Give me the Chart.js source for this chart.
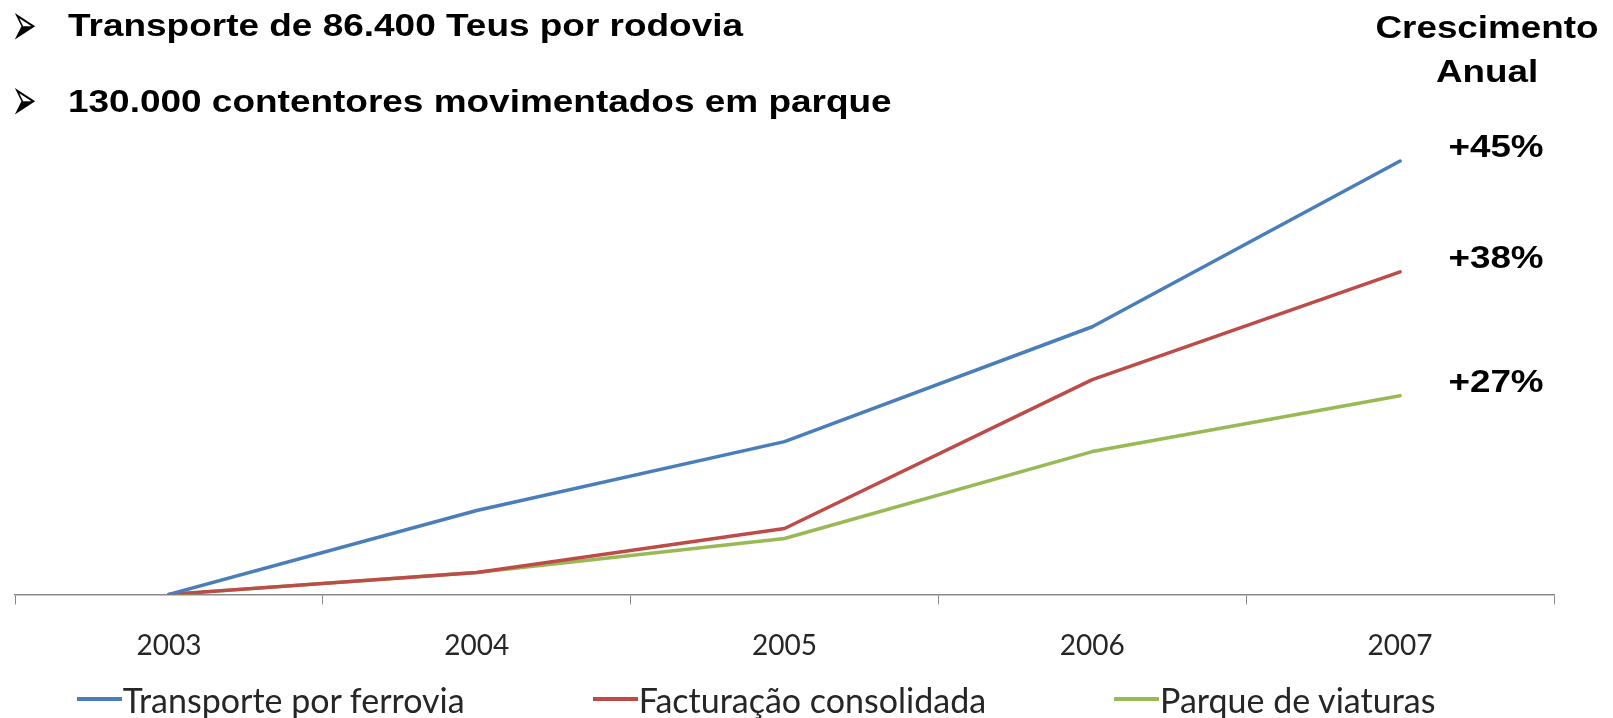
<!DOCTYPE html>
<html lang="pt">
<head>
<meta charset="utf-8">
<title>Crescimento Anual</title>
<script src="https://cdn.jsdelivr.net/npm/chart.js@4"></script>
<style>
    html, body { margin: 0; padding: 0; background: #fff; overflow: hidden; }
    #wrap { position: absolute; left: 0; top: 0; width: 1613px; height: 718px; }
    .bold { position: absolute; font-family: 'Liberation Sans', Arial, sans-serif; font-weight: bold;
            font-size: 32px; line-height: 32px; color: #000; white-space: nowrap; }
    .linha { left: 68px; transform: scaleX(1.155); transform-origin: left center; }
    .seta { position: absolute; left: 4px; width: 40px; height: 40px; line-height: 40px; text-align: center;
            font-family: 'DejaVu Sans', sans-serif; font-size: 30px; color: #000;
            transform: scaleY(2); transform-origin: center center; }
    .centro { width: 200px; text-align: center; transform: scaleX(1.15); transform-origin: center center; }
    #legenda { position: absolute; left: 0; top: 680px; width: 1512px; height: 38px; display: flex;
               justify-content: center; align-items: center; gap: 128px;
               font-family: Lato, sans-serif; font-size: 34px; color: #262626; }
    #legenda .item { display: flex; align-items: center; white-space: nowrap; }
    #legenda .traco { display: inline-block; width: 45px; height: 4px; margin-right: 1px; }
</style>
</head>
<body>
<div id="wrap">
    <canvas id="grafico-crescimento"></canvas>
</div>
<span class="seta" style="top:5px">&#10146;</span>
<div class="bold linha" style="top:9px">Transporte de 86.400 Teus por rodovia</div>
<span class="seta" style="top:80px">&#10146;</span>
<div class="bold linha" style="top:85px">130.000 contentores movimentados em parque</div>
<div class="bold centro" style="left:1387px; top:11px">Crescimento</div>
<div class="bold centro" style="left:1387px; top:55px">Anual</div>
<div id="rotulos"></div>
<div id="legenda"></div>
<script>
const anos = ['2003', '2004', '2005', '2006', '2007'];
// valores (escala relativa, 2003 = 0)
const ferrovia = [0, 84, 153, 268, 434];
const facturacao = [0, 22, 66, 215, 323];
const viaturas = [0, 22, 56, 143, 199];
const nomesSeries = ['Transporte por ferrovia', 'Facturação consolidada', 'Parque de viaturas'];
const crescimento = ['+45%', '+38%', '+27%'];
const cores = ['#4A7EBB', '#BE4B48', '#98B954'];

document.addEventListener('DOMContentLoaded', (event) => {
    const ctx = document.getElementById('grafico-crescimento').getContext('2d');
    const series = [ferrovia, facturacao, viaturas];

    const chart = new Chart(ctx, {
        type: 'line',
        data: {
            labels: anos,
            datasets: series.map((valores, i) => ({
                label: nomesSeries[i],
                data: valores,
                borderColor: cores[i],
                backgroundColor: cores[i],
                borderWidth: 3.5,
                borderJoinStyle: 'round',
                borderCapStyle: 'round',
                pointRadius: 0,
                tension: 0,
                fill: false
            }))
        },
        options: {
            responsive: true,
            maintainAspectRatio: false,
            animation: false,
            layout: {
                padding: { left: 15, right: 59, top: 145, bottom: 30 }
            },
            plugins: {
                legend: { display: false },
                tooltip: { enabled: false }
            },
            scales: {
                x: {
                    offset: true,
                    grid: {
                        offset: true,
                        drawOnChartArea: false,
                        tickLength: 10,
                        color: '#898989'
                    },
                    border: { display: true, color: '#898989', width: 1.5 },
                    ticks: {
                        color: '#262626',
                        padding: 25,
                        font: { family: 'Lato', size: 28 }
                    }
                },
                y: {
                    display: false,
                    min: 0,
                    max: 450
                }
            }
        }
    });

    // legenda em HTML
    const legenda = document.getElementById('legenda');
    chart.data.datasets.forEach(ds => {
        const item = document.createElement('div');
        item.className = 'item';
        const traco = document.createElement('span');
        traco.className = 'traco';
        traco.style.background = ds.borderColor;
        const texto = document.createElement('span');
        texto.textContent = ds.label;
        item.appendChild(traco);
        item.appendChild(texto);
        legenda.appendChild(item);
    });

    // crescimento anual ao lado do último ponto
    const rotulos = document.getElementById('rotulos');
    const yScale = chart.scales.y;
    chart.data.datasets.forEach((ds, i) => {
        const ultimo = ds.data[ds.data.length - 1];
        const div = document.createElement('div');
        div.className = 'bold centro';
        div.style.left = '1396px';
        div.style.top = Math.round(yScale.getPixelForValue(ultimo) - 31) + 'px';
        div.textContent = crescimento[i];
        rotulos.appendChild(div);
    });
});
</script>
</body>
</html>
